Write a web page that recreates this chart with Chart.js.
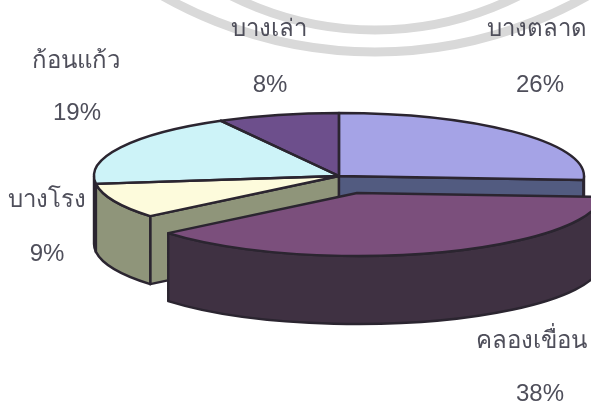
<!DOCTYPE html>
<html>
<head>
<meta charset="utf-8">
<style>
  html, body { margin: 0; padding: 0; background: #fff; }
  canvas { display: block; }
</style>
<script src="https://cdn.jsdelivr.net/npm/chart.js@4"></script>
</head>
<body>
<canvas id="pie" width="591" height="407"></canvas>
<script>
// slices go clockwise from 12 o'clock
const categories = ["บางตลาด", "คลองเขื่อน", "บางโรง", "ก้อนแก้ว", "บางเล่า"];
const shares = [26, 38, 9, 19, 8];
const topColors = ["#a5a3e6", "#7b4f7c", "#fdfbdc", "#cdf3f8", "#6d4f8c"];
const wallColors = ["#525b80", "#3f3142", "#8f957a", "#8f957a", "#4a3a60"];

// text anchors (centre of name / centre of percent)
const labelSpots = [
  [537, 29, 540, 85],
  [531, 341, 540, 394],
  [47, 200, 47, 254],
  [76, 61, 77, 113],
  [269, 29, 270, 85],
];

const SQUASH = 63 / 245; // ellipse ry / rx
const DEPTH = 68;        // height of the pie
const PULLED = 1;        // index of the pulled out slice
const PULL_X = 18;
const PULL_Y = 17;
const LINE = "#2b2530";
const LINE_W = 2.4;
const PAINT_ORDER = [4, 3, 2, 0, 1]; // back to front

// fake 3d: the library draws flat arcs, this plugin tips them over and adds the walls
const pie3d = {
  id: "pie3d",
  afterDatasetUpdate(chart) {
    const arc = chart.getDatasetMeta(0).data[PULLED];
    arc.x += PULL_X;
    arc.y += PULL_Y / SQUASH;
  },
  beforeDraw(chart) {
    // grey seal showing through the scanned page
    const ctx = chart.ctx;
    ctx.save();
    ctx.strokeStyle = "#d9d9d9";
    ctx.lineWidth = 9;
    ctx.beginPath();
    ctx.arc(375, -289, 319, 0, Math.PI);
    ctx.stroke();
    ctx.beginPath();
    ctx.arc(375, -378, 430, 0, Math.PI);
    ctx.stroke();
    ctx.restore();
  },
  beforeDatasetsDraw(chart) {
    const ctx = chart.ctx;
    const arcs = chart.getDatasetMeta(0).data;
    PAINT_ORDER.forEach(i => drawWalls(ctx, arcs[i], wallColors[i], arcs[0].y));
    const c = arcs[0];
    ctx.save();
    ctx.translate(c.x, c.y);
    ctx.scale(1, SQUASH);
    ctx.translate(-c.x, -c.y);
  },
  afterDatasetsDraw(chart) {
    const ctx = chart.ctx;
    ctx.restore();
    const arcs = chart.getDatasetMeta(0).data;
    arcs.forEach(a => {
      const [x, y] = screenCentre(a, arcs[0].y);
      ctx.beginPath();
      ctx.moveTo(x, y);
      ctx.ellipse(x, y, a.outerRadius, a.outerRadius * SQUASH, 0, a.startAngle, a.endAngle);
      ctx.closePath();
      ctx.strokeStyle = LINE;
      ctx.lineWidth = LINE_W;
      ctx.lineJoin = "round";
      ctx.stroke();
    });
  },
  afterDraw(chart) {
    const ctx = chart.ctx;
    ctx.save();
    ctx.fillStyle = "#4e4e5a";
    ctx.textAlign = "center";
    ctx.textBaseline = "middle";
    categories.forEach((name, i) => {
      const s = labelSpots[i];
      ctx.font = '24px "Noto Sans", sans-serif';
      ctx.fillText(name, s[0], s[1]);
      ctx.font = '24px "Liberation Sans", sans-serif';
      ctx.fillText(shares[i] + "%", s[2], s[3]);
    });
    ctx.restore();
  },
};

// screen position of an arc's centre after the squash
function screenCentre(a, base) {
  return [a.x, base + (a.y - base) * SQUASH];
}

function drawWalls(ctx, a, color, base) {
  const [x, y] = screenCentre(a, base);
  const rx = a.outerRadius;
  const ry = rx * SQUASH;
  ctx.save();
  ctx.fillStyle = color;
  ctx.strokeStyle = LINE;
  ctx.lineWidth = LINE_W;
  ctx.lineJoin = "round";

  // the two cut faces, only when they look towards the viewer
  const faces = [];
  if (Math.cos(a.startAngle) < -1e-6) faces.push(a.startAngle);
  if (Math.cos(a.endAngle) > 1e-6) faces.push(a.endAngle);
  faces.forEach(t => {
    const ex = x + rx * Math.cos(t);
    const ey = y + ry * Math.sin(t);
    ctx.beginPath();
    ctx.moveTo(x, y);
    ctx.lineTo(ex, ey);
    ctx.lineTo(ex, ey + DEPTH);
    ctx.lineTo(x, y + DEPTH);
    ctx.closePath();
    ctx.fill();
    ctx.stroke();
  });

  // rim, only the part on the front half of the ellipse (canvas angles 0..PI)
  const from = Math.max(a.startAngle, 0);
  const to = Math.min(a.endAngle, Math.PI);
  if (to > from) {
    ctx.beginPath();
    ctx.ellipse(x, y, rx, ry, 0, from, to);
    ctx.ellipse(x, y + DEPTH, rx, ry, 0, to, from, true);
    ctx.closePath();
    ctx.fill();
    ctx.stroke();
  }
  ctx.restore();
}

const chart = new Chart(document.getElementById("pie"), {
  type: "pie",
  plugins: [pie3d],
  data: {
    labels: categories,
    datasets: [{
      data: shares,
      backgroundColor: topColors,
      borderWidth: 0,
      clip: false,
    }],
  },
  options: {
    responsive: false,
    animation: false,
    radius: 245,
    layout: { padding: { left: 87, bottom: 55 } },
    plugins: { legend: { display: false }, tooltip: { enabled: false } },
  },
});
</script>
</body>
</html>
